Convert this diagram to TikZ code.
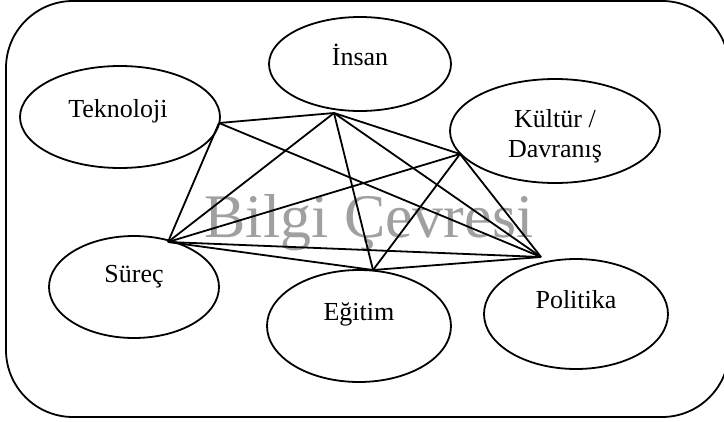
\documentclass[tikz,border=0pt]{standalone}
\usepackage{fontspec}
\setmainfont{Liberation Serif}
\usetikzlibrary{shapes.geometric}
\definecolor{wm}{RGB}{160,160,160}
\begin{document}
\begin{tikzpicture}[x=1pt,y=-1pt,
  oval/.style={draw,ellipse,line width=1.8pt,inner sep=0pt},
  lbl/.style={font=\fontsize{26}{30}\selectfont,anchor=base,inner sep=0pt},
  link/.style={line width=1.8pt}]
\useasboundingbox (0,0) rectangle (724,421);
\draw[line width=1.8pt,rounded corners=67pt] (6,1) rectangle (729,417);
\node[font=\fontsize{62}{70}\selectfont, text=wm, anchor=base, inner sep=0pt] (title) at (369,237) {Bilgi Çevresi};
% ellipses
\node[oval,minimum width=200pt,minimum height=102pt] (T) at (120,117) {};
\node[oval,minimum width=182pt,minimum height=94pt] (I) at (360,64) {};
\node[oval,minimum width=210pt,minimum height=104pt] (K) at (555,131) {};
\node[oval,minimum width=170pt,minimum height=102pt] (S) at (134,287) {};
\node[oval,minimum width=184pt,minimum height=112pt] (E) at (359,326) {};
\node[oval,minimum width=184pt,minimum height=110pt] (P) at (576,314) {};
% labels
\node[lbl] (tT) at (118,117) {Teknoloji};
\node[lbl] (tI) at (360,65) {İnsan};
\node[lbl] (tK1) at (555,127) {Kültür /};
\node[lbl] (tK2) at (555,157) {Davranış};
\node[lbl] (tS) at (134,282) {Süreç};
\node[lbl] (tE) at (359,320) {Eğitim};
\node[lbl] (tP) at (576,308) {Politika};
% hub points
\coordinate (t) at (219,123);
\coordinate (i) at (334,113);
\coordinate (k) at (460,154);
\coordinate (s) at (168,242);
\coordinate (e) at (373,270);
\coordinate (p) at (541,257);
% links
\draw[link] (t) -- (i);
\draw[link] (t) -- (s);
\draw[link] (t) -- (p);
\draw[link] (i) -- (s);
\draw[link] (i) -- (e);
\draw[link] (i) -- (k);
\draw[link] (i) -- (p);
\draw[link] (k) -- (s);
\draw[link] (k) -- (e);
\draw[link] (k) -- (p);
\draw[link] (s) -- (e);
\draw[link] (s) -- (p);
\draw[link] (e) -- (p);
\end{tikzpicture}
\end{document}
